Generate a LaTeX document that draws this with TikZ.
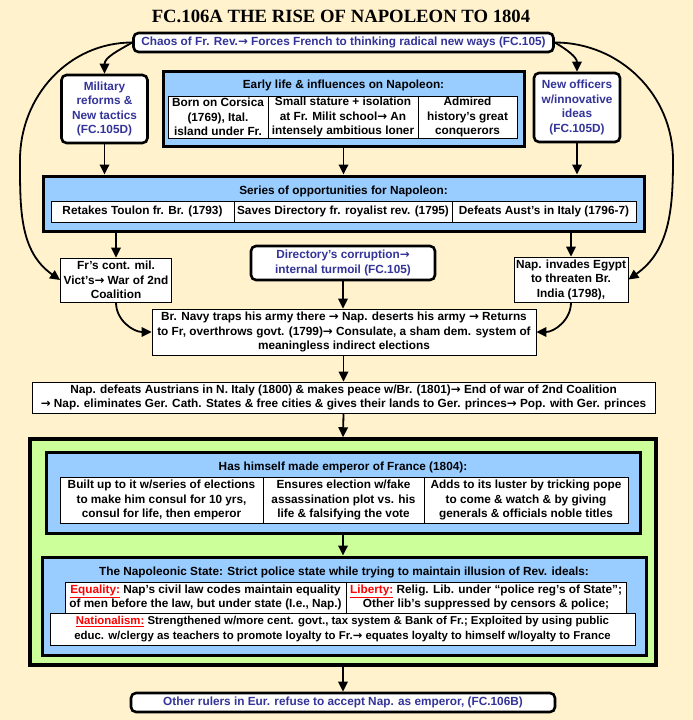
\documentclass[tikz,border=0pt]{standalone}
\usepackage{fontspec}
\setmainfont{Liberation Sans}
\newfontfamily\titlefont{Liberation Serif}
\newfontfamily\arrowfont{DejaVu Sans}
\usetikzlibrary{arrows.meta}

\definecolor{paper}{RGB}{255,242,204}
\definecolor{sky}{RGB}{153,204,255}
\definecolor{lime}{RGB}{204,255,153}
\definecolor{ink}{RGB}{51,51,153}
\newcommand{\ra}{{\arrowfont\bfseries →}}
\newcommand{\ideal}[1]{\textcolor{red}{\underline{#1}}}

\begin{document}
\begin{tikzpicture}[x=1pt,y=1pt,>={Triangle[length=10pt,width=9.5pt]},
    every node/.style={font=\fontsize{11.8}{14.5}\selectfont\bfseries,align=center,inner sep=0pt},
    blue box/.style={draw,line width=3pt,fill=sky},
    cell/.style={draw,line width=0.8pt,fill=white},
    link box/.style={draw,line width=2.6pt,rounded corners=5pt,fill=white,text=ink}]
  \fill[paper] (0,0) rectangle (693,-720);
  \useasboundingbox (0,0) rectangle (693,-720);

  \node[font=\titlefont\fontsize{18.7}{20}\selectfont\bfseries] (title) at (341,-16)
    {FC.106A THE RISE OF NAPOLEON TO 1804};
  \node[link box,minimum width=420pt,minimum height=19pt] (chaos) at (343.5,-42.5)
    {Chaos of Fr. Rev.\ra{} Forces French to thinking radical new ways (FC.105)};

  % top row
  \node[link box,minimum width=86pt,minimum height=68pt] (mil) at (104.5,-109)
    {Military\\reforms \&\\New tactics\\(FC.105D)};
  \node[link box,minimum width=86pt,minimum height=69pt] (newoff) at (577,-107.5)
    {New officers\\w/innovative\\ideas\\(FC.105D)};
  \node[blue box,minimum width=361pt,minimum height=75pt] (early) at (343.5,-108.5) {};
  \node (earlyhead) at (343.5,-85) {Early life \& influences on Napoleon:};
  \node[cell,minimum width=100pt,minimum height=42pt] (corsica) at (218,-117)
    {Born on Corsica\\(1769), Ital.\\island under Fr.};
  \node[cell,minimum width=150pt,minimum height=42pt] (stature) at (343,-117)
    {Small stature + isolation\\at Fr. Milit school\ra{} An\\intensely ambitious loner};
  \node[cell,minimum width=99pt,minimum height=42pt] (admired) at (467.5,-117)
    {Admired\\history’s great\\conquerors};

  % opportunities
  \node[blue box,minimum width=601pt,minimum height=55pt] (series) at (343.5,-203.5) {};
  \node (serieshead) at (343.5,-191) {Series of opportunities for Napoleon:};
  \node[cell,minimum width=183pt,minimum height=21pt] (toulon) at (142.5,-211.5)
    {Retakes Toulon fr. Br. (1793)};
  \node[cell,minimum width=218pt,minimum height=21pt] (saves) at (343,-211.5)
    {Saves Directory fr. royalist rev. (1795)};
  \node[cell,minimum width=184pt,minimum height=21pt] (italy) at (544,-211.5)
    {Defeats Aust’s in Italy (1796-7)};

  \node[cell,minimum width=111pt,minimum height=44pt] (victs) at (116,-280)
    {Fr’s cont. mil.\\Vict’s\ra{} War of 2nd\\Coalition};
  \node[link box,minimum width=184pt,minimum height=34pt] (corrupt) at (343,-263)
    {Directory’s corruption\ra\\internal turmoil (FC.105)};
  \node[cell,minimum width=114pt,minimum height=45pt] (egypt) at (571,-279.5)
    {Nap. invades Egypt\\to threaten Br.\\India (1798),};
  \node[cell,minimum width=384pt,minimum height=46pt] (navy) at (344,-332)
    {Br. Navy traps his army there \ra{} Nap. deserts his army \ra{} Returns\\
     to Fr, overthrows govt. (1799)\ra{} Consulate, a sham dem. system of\\
     meaningless indirect elections};
  \node[cell,minimum width=623pt,minimum height=31pt] (peace) at (343.5,-397.5)
    {Nap. defeats Austrians in N. Italy (1800) \& makes peace w/Br. (1801)\ra{} End of war of 2nd Coalition\\
     \ra{} Nap. eliminates Ger. Cath. States \& free cities \& gives their lands to Ger. princes\ra{} Pop. with Ger. princes};

  % empire
  \node[draw,line width=3.5pt,fill=lime,minimum width=626pt,minimum height=226pt] (empire) at (343,-552) {};
  \node[blue box,minimum width=594pt,minimum height=81pt] (emperor) at (343,-492.5) {};
  \node (emperorhead) at (343,-467) {Has himself made emperor of France (1804):};
  \node[cell,minimum width=203pt,minimum height=46pt] (builtup) at (161.5,-500)
    {Built up to it w/series of elections\\to make him consul for 10 yrs,\\consul for life, then emperor};
  \node[cell,minimum width=161pt,minimum height=46pt] (ensures) at (343.5,-500)
    {Ensures election w/fake\\assassination plot vs. his\\life \& falsifying the vote};
  \node[cell,minimum width=204pt,minimum height=46pt] (luster) at (526,-500)
    {Adds to its luster by tricking pope\\to come \& watch \& by giving\\generals \& officials noble titles};
  \node[blue box,minimum width=604pt,minimum height=98pt] (state) at (344,-606) {};
  \node (statehead) at (344,-572)
    {The Napoleonic State: Strict police state while trying to maintain illusion of Rev. ideals:};
  \node[cell,minimum width=281pt,minimum height=31pt] (equality) at (205.5,-597.5)
    {\ideal{Equality:} Nap’s civil law codes maintain equality\\of men before the law, but under state (I.e., Nap.)};
  \node[cell,minimum width=280pt,minimum height=31pt] (liberty) at (486,-597.5)
    {\ideal{Liberty:} Relig. Lib. under “police reg’s of State”;\\Other lib’s suppressed by censors \& police;};
  \node[cell,minimum width=585pt,minimum height=32pt,font=\fontsize{11.4}{15}\selectfont\bfseries] (nation) at (342.5,-629)
    {\ideal{Nationalism:} Strengthened w/more cent. govt., tax system \& Bank of Fr.; Exploited by using public\\
     educ. w/clergy as teachers to promote loyalty to Fr.\ra{} equates loyalty to himself w/loyalty to France};

  \node[link box,minimum width=424pt,minimum height=19pt] (others) at (343,-702.5)
    {Other rulers in Eur. refuse to accept Nap. as emperor, (FC.106B)};

  \coordinate (lbend) at (20,-160);
  \coordinate (rbend) at (673,-160);
  \path[every edge/.append style={->,line width=1.8pt}]
    (chaos.west) edge [out=210,in=90] (mil.north)
    (chaos.east) edge [out=-30,in=90] (newoff.north)
    (mil.south) edge (mil.south |- series.north)
    (early.south) edge (series.north)
    (newoff.south) edge (newoff.south |- series.north)
    (victs.north |- series.south) edge (victs.north)
    (egypt.north |- series.south) edge (egypt.north)
    (corrupt.south) edge (corrupt.south |- navy.north)
    (victs.south) edge [out=-90,in=180] (navy.west)
    (egypt.south) edge [out=-90,in=0] (navy.east)
    (navy.south -| peace.north) edge (peace.north)
    (peace.south) edge (empire.north)
    (emperor.south) edge (emperor.south |- state.north)
    (empire.south) edge (others.north)
    ;
  \draw[->,line width=1.8pt] (chaos.west) to[out=180,in=90] (lbend) to[out=-90,in=145] (victs.west);
  \draw[->,line width=1.8pt] (chaos.east) to[out=0,in=90] (rbend) to[out=-90,in=35] (egypt.east);
\end{tikzpicture}
\end{document}
